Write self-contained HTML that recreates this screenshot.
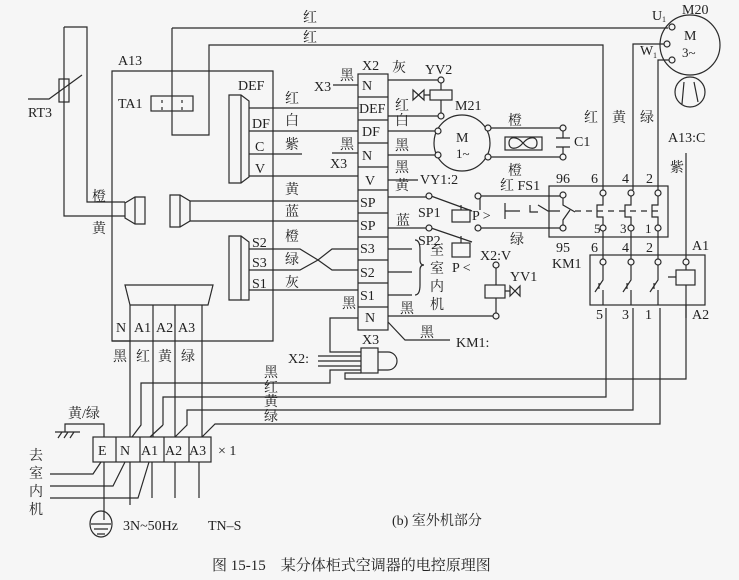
<!DOCTYPE html>
<html><head><meta charset="utf-8"><style>
html,body{margin:0;padding:0;background:#f6f6f6}
svg{display:block}
text{font-family:"Liberation Serif","Noto Serif CJK SC",serif;font-size:14px;fill:#222}
.s{font-size:13px}
</style></head><body>
<svg width="739" height="580" viewBox="0 0 739 580" xmlns="http://www.w3.org/2000/svg">
<rect width="739" height="580" fill="#f6f6f6"/>
<g fill="none" stroke="#2a2a2a" stroke-width="1.2">
<path d="M64,27 H87 V202 H125 M64,27 V216 H125"/>
<rect x="59" y="79" width="10" height="23"/>
<path d="M28,99 H49 L82,75"/>
<path d="M172,28 H668 M172,28 V135 H209 V45 H603 V190"/>
<rect x="151" y="96" width="42" height="15"/>
<path d="M162,100 v3 M162,107 v3 M182,100 v3 M182,107 v3"/>
<path d="M112,71 H273 V341 H112 Z"/>
<path d="M229,95 H241 L249,101 V177 L241,183 H229 Z M241,95 V183"/>
<path d="M249,108 H358 M249,131 H358 M249,154 H302 M249,176 H358"/>
<path d="M332,153 H358 M333,85 H358"/>
<path d="M145,197 H135 L125,203 V218 L135,224 H145 Z M135,197 V224"/>
<path d="M170,195 H180 L190,201 V221 L180,227 H170 Z M180,195 V227"/>
<path d="M190,201 H358 M190,221 H358"/>
<path d="M229,236 H241 L249,242 V300 H229 Z M241,236 V300"/>
<path d="M249,249 H300 L318,260 L332,270 H358 M249,270 H300 L318,260 L332,249 H358 M249,290 H358"/>
<rect x="358" y="74" width="30" height="256"/>
<path d="M358,97 H388 M358,120 H388 M358,143 H388 M358,167 H388 M358,190 H388 M358,213 H388 M358,237 H388 M358,260 H388 M358,283 H388 M358,307 H388"/>
<path d="M388,80 H441 V90 M388,116 H441 V100"/>
<rect x="430" y="90" width="22" height="10"/>
<path d="M430,95 H424 M413,90 L424,100 V90 L413,100 Z"/>
<circle cx="441" cy="80" r="3" fill="#f6f6f6"/>
<circle cx="441" cy="116" r="3" fill="#f6f6f6"/>
<circle cx="462" cy="143" r="28"/>
<path d="M388,131 H436 M388,155 H436 M490,128 H560 M490,157 H560 M563,131 V138 M563,147 V154 M556,138 H570 M556,147 H570"/>
<circle cx="438" cy="131" r="3" fill="#f6f6f6"/><circle cx="438" cy="155" r="3" fill="#f6f6f6"/>
<circle cx="488" cy="128" r="3" fill="#f6f6f6"/><circle cx="488" cy="157" r="3" fill="#f6f6f6"/>
<circle cx="563" cy="128" r="3" fill="#f6f6f6"/><circle cx="563" cy="157" r="3" fill="#f6f6f6"/>
<rect x="505" y="137" width="37" height="13"/>
<path d="M523,143 C517,136 509,136 509,143 C509,150 517,150 523,143 C529,136 537,136 537,143 C537,150 529,150 523,143"/>
<path d="M388,180 H418"/>
<path d="M388,197 H426 M431,196 L472,211 M481,196 H562 M388,228 H426 M431,228 L472,242 M481,228 H562 M480,196 V210"/>
<circle cx="429" cy="196" r="3" fill="#f6f6f6"/><circle cx="478" cy="196" r="3" fill="#f6f6f6"/>
<circle cx="429" cy="228" r="3" fill="#f6f6f6"/><circle cx="478" cy="228" r="3" fill="#f6f6f6"/>
<rect x="452" y="210" width="18" height="12"/><rect x="452" y="243" width="18" height="14"/>
<path d="M461,205 V210 M461,236 V243"/>
<path d="M505,203 V219 M505,211 H520 M530,205 V212 H538 M538,205 L548,211 H560"/>
<rect x="549" y="186" width="119" height="51"/>
<path d="M563,198 V205 L575,212 M563,225 V220 L570,210" />
<path d="M575,211 H663" stroke-dasharray="6,5"/>
<path d="M603,196 V205 H597 V217 H603 V225 M631,196 V205 H625 V217 H631 V225 M658,196 V205 H652 V217 H658 V225"/>
<g fill="#f6f6f6"><circle cx="563" cy="195" r="3"/><circle cx="563" cy="228" r="3"/><circle cx="603" cy="193" r="3"/><circle cx="631" cy="193" r="3"/><circle cx="658" cy="193" r="3"/><circle cx="603" cy="228" r="3"/><circle cx="631" cy="228" r="3"/><circle cx="658" cy="228" r="3"/></g>
<path d="M633,190 V44 H664 M658,190 V60 H669 M603,231 V262 M631,231 V262 M658,231 V262"/>
<circle cx="690" cy="45" r="30"/>
<g fill="#f6f6f6"><circle cx="672" cy="27" r="3"/><circle cx="667" cy="44" r="3"/><circle cx="672" cy="60" r="3"/></g>
<circle cx="690" cy="92" r="15"/><path d="M684,82 L682,104 M694,82 L698,102"/>
<rect x="590" y="255" width="115" height="50"/>
<path d="M603,265 V280 L595,292 M603,290 V305 M631,265 V280 L623,292 M631,290 V305 M658,265 V280 L650,292 M658,290 V305 M599,283 v6 M627,283 v6 M654,283 v6"/>
<g fill="#f6f6f6"><circle cx="603" cy="262" r="3"/><circle cx="631" cy="262" r="3"/><circle cx="658" cy="262" r="3"/><circle cx="686" cy="262" r="3"/></g>
<path d="M686,153 V259 M686,265 V270 M686,285 V318 M668,277 H676"/>
<rect x="676" y="270" width="19" height="15"/>
<path d="M388,249 H412 M388,272 H412 M388,295 H412"/>
<path d="M415,240 q5,0 5,10 v10 q0,5 4,5 q-4,0 -4,5 v15 q0,10 -5,10"/>
<path d="M496,268 V285 M496,298 V313 M388,316 H493 M505,291 H510"/>
<circle cx="496" cy="265" r="3" fill="#f6f6f6"/><circle cx="496" cy="316" r="3" fill="#f6f6f6"/>
<rect x="485" y="285" width="20" height="13"/>
<path d="M510,286 L520,296 V286 L510,296 Z"/>
<path d="M388,322 L405,340 H450"/>
<path d="M358,318 H330 V352 H361"/>
<rect x="361" y="348" width="17" height="25"/>
<path d="M378,352 H388 A9,9 0 0 1 388,370 H378"/>
<path d="M318,356 H361 M318,361 H361 M318,366 H361"/>
<path d="M361,370 H330 V383 H141 V425 L132,437 M361,373 H345 V379 H686 V305"/>
<path d="M163,425 V397 H606 V308 M150,437 L163,425"/>
<path d="M175,437 L187,425 V410 H633 V308"/>
<path d="M202,437 L215,424 H660 V308"/>
<path d="M125,285 H213 L208,305 H130 Z"/>
<path d="M130,305 V437 M153,305 V437 M175,305 V437 M202,305 V437"/>
<path d="M112,341 H130"/>
<rect x="93" y="437" width="118" height="25"/>
<path d="M116,437 V462 M140,437 V462 M164,437 V462 M189,437 V462"/>
<path d="M104,437 V424 H65 V432 M55,432 H80 M58,438 l4,-6 M64,438 l4,-6 M70,438 l4,-6"/>
<path d="M50,474 H93 L101,462 M50,486 H113 L125,462 M50,498 H138 L149,462"/>
<path d="M104,462 V520 M130,462 V505 M152,462 V498 M175,462 V498 M199,462 V498"/>
<ellipse cx="101" cy="524" rx="11" ry="13"/>
<path d="M91,524 H111 M94,529 H108 M97,534 H105"/>
</g>
<text x="28" y="117">RT3</text>
<text x="303" y="22">红</text><text x="303" y="42">红</text>
<text x="118" y="65">A13</text>
<text x="118" y="108">TA1</text>
<text x="238" y="90">DEF</text>
<text x="252" y="128">DF</text><text x="255" y="151">C</text><text x="255" y="173">V</text>
<text x="285" y="103">红</text><text x="285" y="125">白</text><text x="285" y="149">紫</text>
<text x="340" y="149">黑</text><text x="330" y="168">X3</text>
<text x="285" y="194">黄</text><text x="285" y="216">蓝</text>
<text x="285" y="241">橙</text><text x="285" y="264">绿</text><text x="285" y="287">灰</text>
<text x="252" y="247">S2</text><text x="252" y="267">S3</text><text x="252" y="288">S1</text>
<text x="92" y="201">橙</text><text x="92" y="233">黄</text>
<text x="314" y="91">X3</text><text x="340" y="80">黑</text>
<text x="362" y="70">X2</text><text x="392" y="72">灰</text>
<g class="s">
<text x="362" y="90">N</text><text x="359" y="113">DEF</text><text x="362" y="136">DF</text><text x="362" y="160">N</text><text x="365" y="185">V</text>
<text x="360" y="207">SP</text><text x="360" y="230">SP</text><text x="360" y="253">S3</text><text x="360" y="277">S2</text><text x="360" y="300">S1</text><text x="365" y="322">N</text>
</g>
<text x="395" y="110">红</text><text x="395" y="125">白</text><text x="395" y="150">黑</text><text x="395" y="172">黑</text><text x="395" y="190">黄</text>
<text x="396" y="225">蓝</text>
<text x="425" y="74">YV2</text><text x="455" y="110">M21</text>
<text x="456" y="142">M</text><text x="456" y="158" class="s">1~</text>
<text x="508" y="125">橙</text><text x="508" y="175">橙</text><text x="574" y="146">C1</text>
<text x="420" y="184">VY1:2</text>
<text x="500" y="190">红 FS1</text>
<text x="418" y="217">SP1</text><text x="418" y="245">SP2</text>
<text x="472" y="220">P &gt;</text><text x="452" y="272">P &lt;</text>
<text x="510" y="244">绿</text>
<text x="430" y="255">至</text><text x="430" y="273">室</text><text x="430" y="291">内</text><text x="430" y="309">机</text>
<text x="480" y="260">X2:V</text><text x="510" y="281">YV1</text>
<text x="342" y="308">黑</text><text x="400" y="313">黑</text>
<text x="420" y="337">黑</text><text x="456" y="347">KM1:</text>
<text x="362" y="344">X3</text><text x="288" y="363">X2:</text>
<text x="556" y="183">96</text><text x="591" y="183">6</text><text x="622" y="183">4</text><text x="646" y="183">2</text>
<text x="594" y="233" class="s">5</text><text x="620" y="233" class="s">3</text><text x="645" y="233" class="s">1</text>
<text x="556" y="252">95</text><text x="591" y="252">6</text><text x="622" y="252">4</text><text x="646" y="252">2</text>
<text x="552" y="268">KM1</text><text x="692" y="250">A1</text>
<text x="596" y="319">5</text><text x="622" y="319">3</text><text x="645" y="319">1</text><text x="692" y="319">A2</text>
<text x="584" y="122">红</text><text x="612" y="122">黄</text><text x="640" y="122">绿</text>
<text x="668" y="142">A13:C</text><text x="670" y="172">紫</text>
<text x="682" y="14">M20</text><text x="652" y="20">U</text><text x="662" y="22" style="font-size:8px">1</text>
<text x="640" y="55">W</text><text x="653" y="58" style="font-size:8px">1</text>
<text x="684" y="40">M</text><text x="682" y="57" class="s">3~</text>
<text x="116" y="332">N</text><text x="134" y="332">A1</text><text x="156" y="332">A2</text><text x="178" y="332">A3</text>
<text x="113" y="361">黑</text><text x="136" y="361">红</text><text x="158" y="361">黄</text><text x="181" y="361">绿</text>
<text x="264" y="377">黑</text><text x="264" y="392">红</text><text x="264" y="406">黄</text><text x="264" y="421">绿</text>
<text x="68" y="418">黄/绿</text>
<text x="98" y="455">E</text><text x="120" y="455">N</text><text x="141" y="455">A1</text><text x="165" y="455">A2</text><text x="189" y="455">A3</text>
<text x="218" y="455">× 1</text>
<text x="29" y="460">去</text><text x="29" y="478">室</text><text x="29" y="496">内</text><text x="29" y="514">机</text>
<text x="123" y="530">3N~50Hz</text><text x="208" y="530">TN–S</text>
<text x="392" y="525">(b) 室外机部分</text>
<text x="212" y="570" style="font-size:15px">图 15-15　某分体柜式空调器的电控原理图</text>
</svg>
</body></html>
